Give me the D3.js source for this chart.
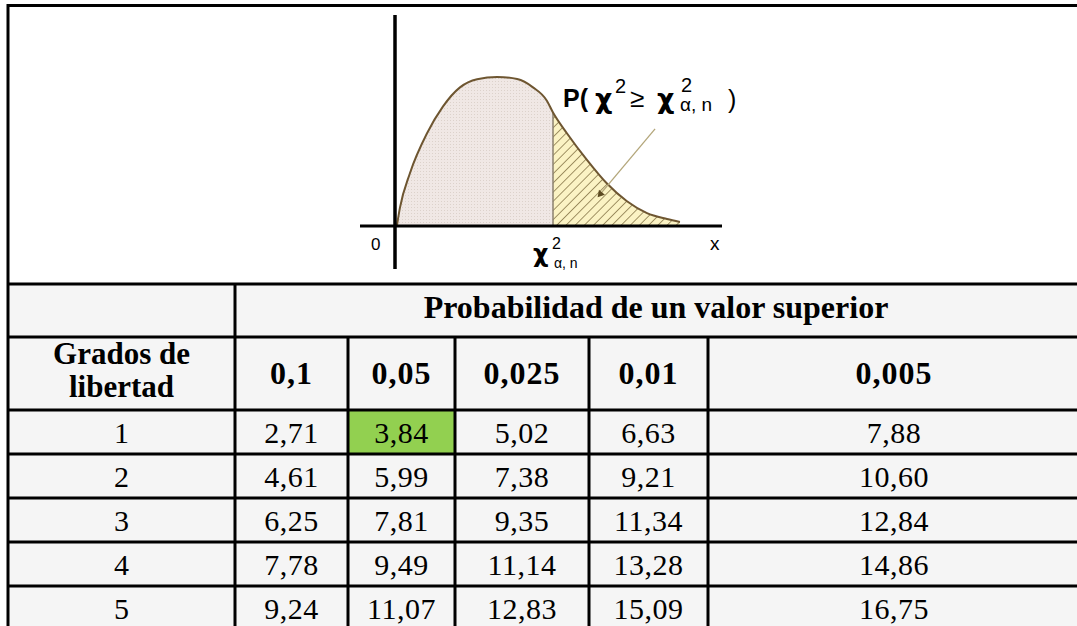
<!DOCTYPE html>
<html lang="es">
<head>
  <meta charset="UTF-8" />
  <title>Tabla chi-cuadrado</title>
  <script src="https://cdn.jsdelivr.net/npm/d3@7"></script>
  <style>
    body { margin: 0; background: #fff; }
    svg { display: block; }
    .cell-text { font-family: "Liberation Serif", "Times New Roman", serif; fill: #000; }
    .head { font-weight: bold; }
    .plot-label { font-family: "Liberation Sans", Arial, sans-serif; fill: #000; }
    .chi { font-family: "DejaVu Sans", sans-serif; font-weight: bold; }
  </style>
</head>
<body>
<svg width="1077" height="626"></svg>

<script>
  // ---- data ----
  const degrees = [1, 2, 3, 4, 5];
  const alphaLabels = ["0,1", "0,05", "0,025", "0,01", "0,005"];
  const crit_010 = [2.71, 4.61, 6.25, 7.78, 9.24];
  const crit_005 = [3.84, 5.99, 7.81, 9.49, 11.07];
  const crit_0025 = [5.02, 7.38, 9.35, 11.14, 12.83];
  const crit_001 = [6.63, 9.21, 11.34, 13.28, 15.09];
  const crit_0005 = [7.88, 10.60, 12.84, 14.86, 16.75];
  const headerTitle = "Probabilidad de un valor superior";
  const firstHeader = ["Grados de", "libertad"];
  const highlightDf = 1;
  const highlightAlpha = "0,05";

  // sketch of the density
  const curveX = [0, 0.09, 0.40, 0.93, 1.42, 1.95, 2.48, 3.10, 3.72, 4.21, 4.64, 4.83, 5.26, 5.88, 6.50, 7.12, 7.74, 8.36, 8.76];
  const curveY = [0, 0.116, 0.35, 0.62, 0.80, 0.93, 0.985, 1.0, 0.986, 0.93, 0.84, 0.76, 0.62, 0.44, 0.28, 0.16, 0.08, 0.04, 0.02];
  const criticalX = 4.83;
  const pointerFrom = [7.99, 0.65];
  const pointerTo = [6.30, 0.21];

  const svg = d3.select("svg");
  const W = 1077, H = 626;
  const locale = d3.formatLocale({ decimal: ",", thousands: ".", grouping: [3], currency: ["", ""] });
  const fmt = locale.format(".2f");

  // ---- layout ----
  const colEdges = [8, 235, 348, 455, 589, 708, 1080];
  const colX = d3.scaleOrdinal().domain(d3.range(colEdges.length)).range(colEdges);
  const chartBottom = 284, head1Bottom = 337, head2Bottom = 410, rowH = 44;
  const rowY = d3.scaleLinear().domain([0, 1]).range([head2Bottom, head2Bottom + rowH]);

  // table background
  svg.append("rect").attr("x", colX(0)).attr("y", chartBottom)
    .attr("width", W - colX(0)).attr("height", H - chartBottom).attr("fill", "#f5f5f5");

  // ---- plot ----
  const x = d3.scaleLinear().domain([0, 10]).range([397, 720]);
  const y = d3.scaleLinear().domain([0, 1]).range([225, 77]);
  const pts = curveX.map((v, i) => [v, curveY[i]]);
  const leftPts = pts.filter(p => p[0] <= criticalX);
  const rightPts = pts.filter(p => p[0] >= criticalX);

  const defs = svg.append("defs");
  const hatch = defs.append("pattern").attr("id", "hatch")
    .attr("patternUnits", "userSpaceOnUse").attr("width", 6.5).attr("height", 6.5)
    .attr("patternTransform", "rotate(45)");
  hatch.append("rect").attr("width", 6.5).attr("height", 6.5).attr("fill", "#fbf3c4");
  hatch.append("line").attr("x1", 0).attr("y1", 0).attr("x2", 0).attr("y2", 6.5)
    .attr("stroke", "#7a683a").attr("stroke-width", 1.4);

  const dots = defs.append("pattern").attr("id", "dots")
    .attr("patternUnits", "userSpaceOnUse").attr("width", 3).attr("height", 3);
  dots.append("rect").attr("width", 3).attr("height", 3).attr("fill", "#f0e8e5");
  dots.append("rect").attr("width", 1).attr("height", 1).attr("fill", "#dcd2cb");

  const area = d3.area().x(d => x(d[0])).y0(y(0)).y1(d => y(d[1])).curve(d3.curveMonotoneX);
  const line = d3.line().x(d => x(d[0])).y(d => y(d[1])).curve(d3.curveMonotoneX);

  svg.append("path").attr("d", area(leftPts)).attr("fill", "url(#dots)");
  svg.append("path").attr("d", area(rightPts)).attr("fill", "url(#hatch)");
  svg.append("line")
    .attr("x1", x(criticalX)).attr("x2", x(criticalX))
    .attr("y1", y(0)).attr("y2", y(curveY[curveX.indexOf(criticalX)]))
    .attr("stroke", "#8c8270").attr("stroke-width", 1.5);
  svg.append("path").attr("d", line(pts)).attr("fill", "none")
    .attr("stroke", "#6e5631").attr("stroke-width", 2);

  // pointer
  svg.append("line")
    .attr("x1", x(pointerFrom[0])).attr("y1", y(pointerFrom[1]))
    .attr("x2", x(pointerTo[0])).attr("y2", y(pointerTo[1]))
    .attr("stroke", "#b3a67a").attr("stroke-width", 1.3);
  svg.append("path")
    .attr("d", d3.symbol(d3.symbolTriangle, 26)())
    .attr("transform", `translate(${x(pointerTo[0])},${y(pointerTo[1])}) rotate(-140)`)
    .attr("fill", "#5c4a22");

  // axes
  svg.append("line").attr("x1", 360).attr("x2", 722).attr("y1", 226).attr("y2", 226)
    .attr("stroke", "#000").attr("stroke-width", 3);
  svg.append("line").attr("x1", 395).attr("x2", 395).attr("y1", 15).attr("y2", 269)
    .attr("stroke", "#000").attr("stroke-width", 3.5);

  svg.append("text").attr("class", "plot-label").attr("x", 371).attr("y", 250)
    .attr("font-size", 17).text("0");
  svg.append("text").attr("class", "plot-label").attr("x", 710).attr("y", 250)
    .attr("font-size", 19).text("x");

  // chi label under the axis
  svg.append("text").attr("class", "plot-label chi").attr("x", 533).attr("y", 262)
    .attr("font-size", 24).text("χ");
  svg.append("text").attr("class", "plot-label").attr("x", 552).attr("y", 249)
    .attr("font-size", 16).text("2");
  svg.append("text").attr("class", "plot-label").attr("x", 554).attr("y", 268)
    .attr("font-size", 14).text("α, n");

  // probability label
  svg.append("text").attr("class", "plot-label").attr("x", 563).attr("y", 107)
    .attr("font-size", 25).attr("font-weight", "bold").text("P(");
  svg.append("text").attr("class", "plot-label chi").attr("x", 595).attr("y", 108)
    .attr("font-size", 27).text("χ");
  svg.append("text").attr("class", "plot-label").attr("x", 615).attr("y", 93)
    .attr("font-size", 20).text("2");
  svg.append("text").attr("class", "plot-label").attr("x", 630).attr("y", 107)
    .attr("font-size", 26).text("≥");
  svg.append("text").attr("class", "plot-label chi").attr("x", 657).attr("y", 108)
    .attr("font-size", 27).text("χ");
  svg.append("text").attr("class", "plot-label").attr("x", 681).attr("y", 92)
    .attr("font-size", 20).text("2");
  svg.append("text").attr("class", "plot-label").attr("x", 680).attr("y", 111)
    .attr("font-size", 19).text("α, n");
  svg.append("text").attr("class", "plot-label").attr("x", 728).attr("y", 108)
    .attr("font-size", 25).text(")");

  // ---- table ----
  const columns = [crit_010, crit_005, crit_0025, crit_001, crit_0005];
  const rows = degrees.map((df, i) => ({ df, vals: columns.map(c => c[i]) }));

  const hc = alphaLabels.indexOf(highlightAlpha) + 1;
  const hr = degrees.indexOf(highlightDf);
  svg.append("rect")
    .attr("x", colX(hc)).attr("y", rowY(hr))
    .attr("width", colX(hc + 1) - colX(hc)).attr("height", rowH)
    .attr("fill", "#92d050");

  const midX = c => (colX(c) + colX(c + 1)) / 2;

  // header 1
  svg.append("text").attr("class", "cell-text head")
    .attr("x", (colX(1) + W) / 2).attr("y", 318)
    .attr("text-anchor", "middle").attr("font-size", 32).text(headerTitle);

  // header 2
  svg.append("g").selectAll("text").data(firstHeader).join("text")
    .attr("class", "cell-text head").attr("text-anchor", "middle")
    .attr("x", midX(0)).attr("y", (d, i) => 364 + i * 33)
    .attr("font-size", 31).text(d => d);
  svg.append("g").selectAll("text").data(alphaLabels).join("text")
    .attr("class", "cell-text head").attr("text-anchor", "middle")
    .attr("x", (d, i) => midX(i + 1)).attr("y", 384)
    .attr("font-size", 32).attr("letter-spacing", 1).text(d => d);

  // body
  const rowG = svg.append("g").selectAll("g").data(rows).join("g")
    .attr("transform", (d, i) => `translate(0,${rowY(i)})`);
  rowG.append("text").attr("class", "cell-text").attr("text-anchor", "middle")
    .attr("x", midX(0)).attr("y", 33).attr("font-size", 30).text(d => d.df);
  rowG.selectAll("text.v").data(d => d.vals).join("text")
    .attr("class", "cell-text v").attr("text-anchor", "middle")
    .attr("x", (d, i) => midX(i + 1)).attr("y", 33).attr("font-size", 30)
    .attr("letter-spacing", 0.5)
    .text(d => fmt(d));

  // ---- grid lines ----
  const grid = svg.append("g").attr("stroke", "#000").attr("stroke-width", 3);
  grid.append("line").attr("x1", colX(0)).attr("x2", W).attr("y1", 5.5).attr("y2", 5.5);
  grid.append("line").attr("x1", colX(0)).attr("x2", colX(0)).attr("y1", 4).attr("y2", H);
  const hLines = [chartBottom, head1Bottom, head2Bottom].concat(degrees.slice(0, -1).map((d, i) => rowY(i + 1)));
  grid.selectAll("line.h").data(hLines).join("line").attr("class", "h")
    .attr("x1", colX(0)).attr("x2", W).attr("y1", d => d).attr("y2", d => d);
  grid.append("line").attr("x1", colX(1)).attr("x2", colX(1)).attr("y1", chartBottom).attr("y2", H);
  grid.selectAll("line.v").data(d3.range(2, colEdges.length - 1)).join("line").attr("class", "v")
    .attr("x1", d => colX(d)).attr("x2", d => colX(d)).attr("y1", head1Bottom).attr("y2", H);
</script>
</body>
</html>
